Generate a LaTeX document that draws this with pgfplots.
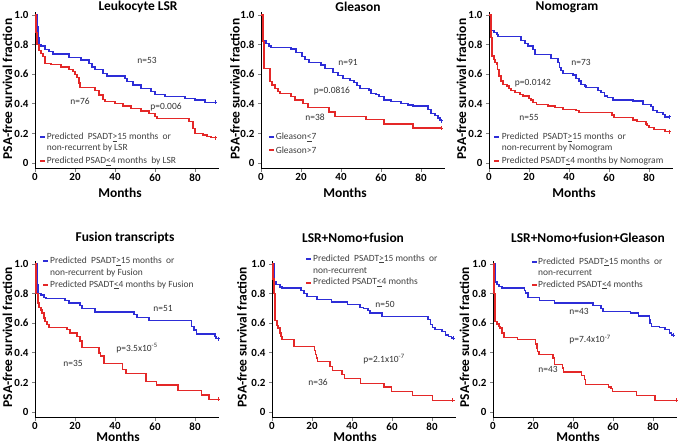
\documentclass[border=0pt]{standalone}
\usepackage{fontspec}
\setmainfont{Carlito}
\usepackage{pgfplots}
\pgfplotsset{compat=1.18}

\definecolor{kmblue}{RGB}{45,45,215}
\definecolor{kmred}{RGB}{228,40,40}
\definecolor{legtext}{RGB}{64,64,64}
\definecolor{anntext}{RGB}{50,50,50}

\newcommand{\tickfont}{\bfseries\fontsize{11}{12}\selectfont}
\newcommand{\legfont}{\fontsize{9.5}{11}\selectfont}
\newcommand{\labfont}{\bfseries\fontsize{13.5}{15}\selectfont}

\pgfplotsset{
  km/.style={
    scale only axis, width=184bp, height=156.9bp,
    xmin=0, xmax=92, ymin=-0.04, ymax=1.02,
    axis x line*=bottom, axis y line*=left,
    axis line style={line width=1bp, -},
    xtick={0,20,40,60,80},
    ytick={0,0.2,0.4,0.6,0.8,1.0},
    yticklabels={0,0.2,0.4,0.6,0.8,1.0},
    tick align=outside, major tick length=3bp,
    tick style={line width=1bp},
    ticklabel style={font=\tickfont},
    xticklabel style={inner sep=1.5bp},
    /pgf/number format/assume math mode=true,
    clip=false,
  },
  kmb/.style={const plot, line width=1.3bp, draw=kmblue, mark=none},
  kmr/.style={const plot, line width=1.3bp, draw=kmred, mark=none},
  endb/.style={only marks, mark=+, mark size=2bp, draw=kmblue, mark options={line width=1bp}},
  endr/.style={only marks, mark=+, mark size=2bp, draw=kmred, mark options={line width=1bp}},
}
\tikzset{
  ann/.style={font=\legfont, text=anntext, inner sep=0},
  leg/.style={anchor=west, font=\legfont, text=legtext, inner sep=0},
  lb/.style={draw=kmblue, line width=1.8bp},
  lr/.style={draw=kmred, line width=1.8bp},
  lab/.style={font=\labfont, inner sep=0},
}

\begin{document}
\begin{tikzpicture}[x=1bp, y=1bp]
\useasboundingbox (0,0) rectangle (684,444);

% ---------- Leukocyte LSR ----------
\begin{axis}[km, at={(35bp,275bp)}, anchor=south west]
\addplot[kmb] coordinates {(0,1) (1,0.92) (1.5,0.85) (2,0.80) (3,0.79) (5,0.768) (7,0.752) (9,0.736) (17,0.714) (23,0.696) (27,0.673) (28.5,0.65) (30,0.63) (34,0.606) (36,0.588) (45,0.572) (46,0.55) (49,0.527) (53,0.505) (58,0.483) (60,0.464) (65,0.448) (75,0.437) (80,0.426) (85,0.41) (90,0.41)};
\addplot[kmr] coordinates {(0,1) (0.5,0.88) (1,0.80) (2,0.76) (3,0.74) (4,0.72) (5,0.673) (8,0.665) (13,0.65) (17,0.633) (19,0.617) (20,0.60) (21,0.58) (22,0.54) (22.5,0.511) (30,0.489) (32,0.46) (34,0.43) (35,0.414) (40,0.403) (44,0.385) (48,0.369) (53,0.351) (57,0.336) (60,0.313) (61,0.30) (77,0.28) (79,0.234) (80,0.20) (84,0.19) (86,0.178) (88,0.171) (90,0.171)};
\addplot[endb] coordinates {(90,0.41)};
\addplot[endr] coordinates {(90,0.171)};
\node[ann] at (axis cs:56,0.69) {n=53};
\node[ann] at (axis cs:22.5,0.42) {n=76};
\node[ann] at (axis cs:65.5,0.38) {p=0.006};
\draw[lb] (axis cs:2.5,0.176) -- (axis cs:5,0.176);
\draw[lr] (axis cs:2.5,0.012) -- (axis cs:5,0.012);
\node[leg] at (axis cs:5.8,0.176) {Predicted~ PSADT\underline{>}15 months~ or};
\node[leg] at (axis cs:5.8,0.10) {non-recurrent by LSR};
\node[leg] at (axis cs:5.8,0.012) {Predicted PSAD\underline{<}4 months~ by LSR};
\end{axis}

% ---------- Gleason ----------
\begin{axis}[km, at={(261bp,275bp)}, anchor=south west]
\addplot[kmb] coordinates {(0,1) (1,0.83) (2.5,0.81) (4,0.79) (5,0.78) (15,0.77) (17.5,0.745) (20.5,0.72) (22,0.70) (24,0.68) (30,0.663) (32,0.64) (36,0.61) (38.5,0.59) (41,0.573) (44.5,0.56) (46.5,0.544) (48,0.525) (49.5,0.506) (54,0.494) (55,0.472) (57.5,0.461) (59,0.45) (61.5,0.427) (65,0.416) (70,0.404) (73.5,0.393) (76,0.385) (83.5,0.36) (85,0.337) (87,0.32) (88.5,0.305) (89.5,0.29) (90,0.285)};
\addplot[kmr] coordinates {(0,1) (1,0.82) (1.5,0.64) (4.5,0.55) (5.5,0.528) (7,0.506) (8.5,0.483) (9.5,0.472) (15,0.45) (17,0.427) (21,0.404) (23.5,0.375) (34,0.345) (37,0.315) (52.5,0.292) (61.5,0.263) (76,0.236) (90,0.236)};
\addplot[endb] coordinates {(90,0.285)};
\addplot[endr] coordinates {(90,0.236)};
\node[ann] at (axis cs:43.5,0.68) {n=91};
\node[ann] at (axis cs:35.5,0.49) {p=0.0816};
\node[ann] at (axis cs:27,0.31) {n=38};
\draw[lb] (axis cs:4,0.176) -- (axis cs:6.5,0.176);
\draw[lr] (axis cs:4,0.088) -- (axis cs:6.5,0.088);
\node[leg] at (axis cs:7.3,0.176) {Gleason\underline{<}7};
\node[leg] at (axis cs:7.3,0.088) {Gleason>7};
\end{axis}

% ---------- Nomogram ----------
\begin{axis}[km, at={(489bp,275bp)}, anchor=south west]
\addplot[kmb] coordinates {(0,1) (1,0.897) (2.5,0.88) (4,0.87) (4.5,0.854) (16,0.829) (18,0.807) (19.5,0.79) (22,0.768) (23,0.735) (31,0.708) (34.5,0.68) (35.3,0.645) (36,0.627) (37,0.604) (42,0.595) (43.5,0.573) (45,0.555) (46,0.533) (48,0.521) (48.5,0.51) (54.5,0.492) (56,0.476) (57.7,0.454) (59.4,0.443) (62,0.427) (72,0.42) (77,0.398) (81,0.38) (82,0.353) (84,0.342) (87,0.33) (88,0.312) (90,0.312)};
\addplot[kmr] coordinates {(0,1) (1,0.85) (1.5,0.724) (2.5,0.70) (3,0.68) (4,0.667) (4.3,0.634) (5,0.589) (6,0.555) (7,0.533) (9,0.521) (10,0.506) (11,0.488) (13,0.476) (15.5,0.465) (17,0.454) (20,0.438) (21,0.427) (22,0.409) (23.7,0.398) (29.5,0.386) (33,0.375) (37,0.364) (43.5,0.355) (45,0.342) (61.5,0.324) (62.5,0.308) (72,0.29) (74,0.279) (78.5,0.263) (79,0.252) (80,0.24) (82.5,0.229) (88,0.215) (90,0.213)};
\addplot[endb] coordinates {(90,0.312)};
\addplot[endr] coordinates {(90,0.213)};
\node[ann] at (axis cs:46,0.68) {n=73};
\node[ann] at (axis cs:22,0.54) {p=0.0142};
\node[ann] at (axis cs:20,0.31) {n=55};
\draw[lb] (axis cs:2.5,0.176) -- (axis cs:5.2,0.176);
\draw[lr] (axis cs:2.5,0.014) -- (axis cs:5.2,0.014);
\node[leg] at (axis cs:6.3,0.176) {Predicted~ PSADT\underline{>}15 months~ or};
\node[leg] at (axis cs:6.3,0.10) {non-recurrent by Nomogram};
\node[leg] at (axis cs:6.3,0.014) {Predicted PSADT\underline{<}4 months by Nomogram};
\end{axis}

% ---------- Fusion transcripts ----------
\begin{axis}[km, at={(35bp,26bp)}, anchor=south west]
\addplot[kmb] coordinates {(0,1) (1,0.86) (1.5,0.80) (3,0.79) (4.5,0.775) (5.5,0.766) (15,0.755) (17,0.737) (22.5,0.72) (23.5,0.70) (30,0.676) (49.5,0.658) (51,0.64) (57,0.62) (78.3,0.58) (79.5,0.555) (80.8,0.527) (90,0.509) (90.5,0.495) (91.5,0.495)};
\addplot[kmr] coordinates {(0,1) (0.5,0.80) (1.5,0.737) (2,0.708) (3,0.69) (3.5,0.67) (4.5,0.636) (5,0.613) (6,0.59) (7,0.573) (16,0.557) (17.5,0.535) (21,0.512) (22.5,0.48) (23.5,0.434) (32,0.40) (32.8,0.378) (34.5,0.329) (43.8,0.288) (45.5,0.26) (55.5,0.205) (60.6,0.182) (71.5,0.144) (83.3,0.115) (87,0.086) (91.5,0.086)};
\addplot[endb] coordinates {(91.5,0.495)};
\addplot[endr] coordinates {(91.5,0.086)};
\node[ann] at (axis cs:64,0.70) {n=51};
\node[ann] at (axis cs:51,0.43) {p=3.5x10\textsuperscript{-5}};
\node[ann] at (axis cs:19,0.33) {n=35};
\draw[lb] (axis cs:4,1.02) -- (axis cs:6.6,1.02);
\draw[lr] (axis cs:4,0.86) -- (axis cs:6.6,0.86);
\node[leg] at (axis cs:7.5,1.02) {Predicted~ PSADT\underline{>}15 months~ or};
\node[leg] at (axis cs:7.5,0.94) {non-recurrent by Fusion};
\node[leg] at (axis cs:7.5,0.86) {Predicted PSADT\underline{<}4 months by Fusion};
\end{axis}

% ---------- LSR+Nomo+fusion ----------
\begin{axis}[km, at={(272bp,26bp)}, anchor=south west]
\addplot[kmb] coordinates {(0,1) (1,0.883) (2,0.86) (4,0.845) (5,0.838) (14.5,0.82) (16,0.80) (17.5,0.78) (22.5,0.76) (29.7,0.743) (37.6,0.725) (44,0.707) (45.6,0.698) (48,0.685) (49,0.67) (55,0.646) (78,0.624) (79.3,0.59) (80.3,0.572) (81.5,0.556) (85,0.545) (86.7,0.52) (88.4,0.511) (89.6,0.50) (90.6,0.50)};
\addplot[kmr] coordinates {(0,1) (0.5,0.90) (1,0.80) (1.5,0.62) (2.5,0.585) (3,0.567) (4,0.534) (4.5,0.51) (5,0.489) (11,0.444) (21.4,0.414) (21.7,0.39) (22.2,0.365) (22.9,0.342) (29,0.31) (30.3,0.28) (35,0.252) (36.2,0.225) (44.3,0.195) (56,0.17) (59.7,0.14) (70.4,0.113) (80.2,0.08) (90.4,0.08)};
\addplot[endb] coordinates {(90.6,0.50)};
\addplot[endr] coordinates {(90.4,0.08)};
\node[ann] at (axis cs:56.5,0.73) {n=50};
\node[ann] at (axis cs:56,0.36) {p=2.1x10\textsuperscript{-7}};
\node[ann] at (axis cs:23,0.20) {n=36};
\draw[lb] (axis cs:17,1.035) -- (axis cs:19.6,1.035);
\draw[lr] (axis cs:17,0.874) -- (axis cs:19.6,0.874);
\node[leg] at (axis cs:20.5,1.035) {Predicted~ PSADT\underline{>}15 months~ or};
\node[leg] at (axis cs:20.5,0.957) {non-recurrent};
\node[leg] at (axis cs:20.5,0.874) {Predicted PSADT\underline{<}4 months};
\end{axis}

% ---------- LSR+Nomo+fusion+Gleason ----------
\begin{axis}[km, at={(493bp,26bp)}, anchor=south west]
\addplot[kmb] coordinates {(0,1) (1,0.878) (2,0.86) (3,0.849) (4.5,0.838) (15.6,0.822) (16.4,0.804) (17.5,0.775) (23.2,0.755) (30.6,0.736) (50,0.718) (54,0.698) (55,0.68) (68.8,0.67) (72.8,0.65) (78.2,0.624) (78.5,0.60) (79.3,0.579) (83.4,0.572) (86,0.556) (88.3,0.534) (89.1,0.52) (90.2,0.52)};
\addplot[kmr] coordinates {(0,1) (0.5,0.80) (1,0.613) (2,0.595) (3,0.58) (3.5,0.568) (4.5,0.534) (5.5,0.505) (12.4,0.489) (21.3,0.46) (22,0.432) (22.4,0.41) (23,0.387) (30,0.365) (30.6,0.32) (34.6,0.297) (35.4,0.27) (44.4,0.245) (45.7,0.218) (46.3,0.185) (57.9,0.169) (59,0.158) (59.8,0.14) (71.7,0.113) (81,0.079) (91.5,0.079)};
\addplot[endb] coordinates {(90.2,0.52)};
\addplot[endr] coordinates {(91.5,0.079)};
\node[ann] at (axis cs:43,0.68) {n=43};
\node[ann] at (axis cs:48.5,0.49) {p=7.4x10\textsuperscript{-7}};
\node[ann] at (axis cs:27.5,0.29) {n=43};
\draw[lb] (axis cs:19.5,1.015) -- (axis cs:22,1.015);
\draw[lr] (axis cs:19.5,0.86) -- (axis cs:22,0.86);
\node[leg] at (axis cs:22.5,1.015) {Predicted~ PSADT\underline{>}15 months~ or};
\node[leg] at (axis cs:22.5,0.94) {non-recurrent};
\node[leg] at (axis cs:22.5,0.86) {Predicted PSADT\underline{<}4 months};
\end{axis}

% ---------- titles ----------
\node[lab] at (138,437) {Leukocyte LSR};
\node[lab] at (358,437) {Gleason};
\node[lab] at (567,437) {Nomogram};
\node[lab] at (125,206) {Fusion transcripts};
\node[lab] at (353,206) {LSR+Nomo+fusion};
\node[lab] at (588,206) {LSR+Nomo+fusion+Gleason};

% ---------- y labels ----------
\node[lab, rotate=90] at (7.5,355) {PSA-free survival fraction};
\node[lab, rotate=90] at (235,355) {PSA-free survival fraction};
\node[lab, rotate=90] at (461.5,355) {PSA-free survival fraction};
\node[lab, rotate=90] at (7.5,107) {PSA-free survival fraction};
\node[lab, rotate=90] at (242,107) {PSA-free survival fraction};
\node[lab, rotate=90] at (464.5,107) {PSA-free survival fraction};

% ---------- x labels ----------
\node[lab, anchor=base] at (120,246.6) {Months};
\node[lab, anchor=base] at (345,246.6) {Months};
\node[lab, anchor=base] at (574,246.6) {Months};
\node[lab, anchor=base] at (118,2.2) {Months};
\node[lab, anchor=base] at (355,2.2) {Months};
\node[lab, anchor=base] at (578,2.2) {Months};
\end{tikzpicture}
\end{document}
